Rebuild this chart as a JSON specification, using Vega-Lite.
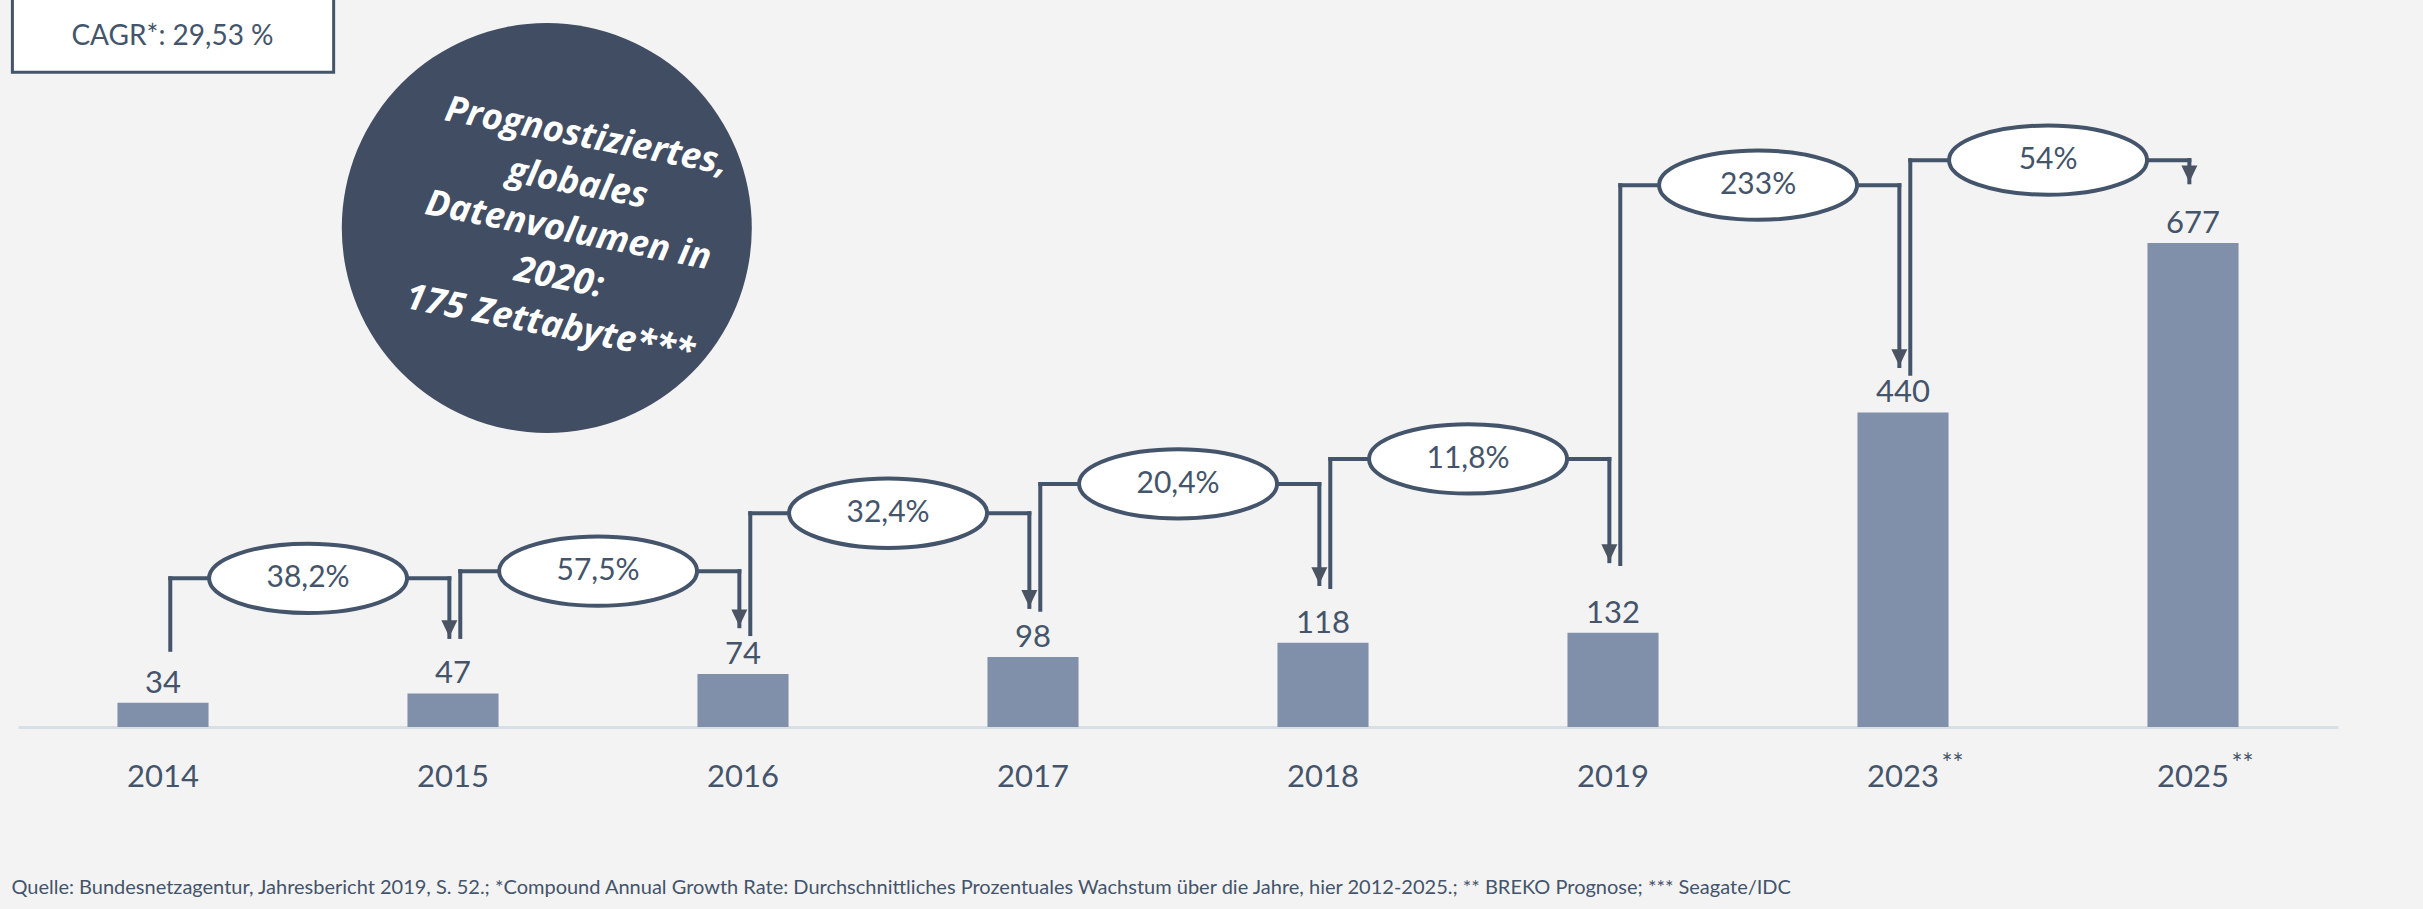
{
  "$schema": "https://vega.github.io/schema/vega-lite/v6.json",
  "autosize": "none",
  "width": 2320,
  "height": 727,
  "padding": {"left": 18, "top": 0, "right": 85, "bottom": 182},
  "background": "#f3f3f3",
  "config": {"view": {"stroke": null}, "font": "Lato"},
  "datasets": {
    "bars": [
      {"year": "2014", "value": 34},
      {"year": "2015", "value": 47},
      {"year": "2016", "value": 74},
      {"year": "2017", "value": 98},
      {"year": "2018", "value": 118},
      {"year": "2019", "value": 132},
      {"year": "2023", "value": 440},
      {"year": "2025", "value": 677}
    ],
    "growth": [
      {"from": "2014", "to": "2015", "label": "38,2%", "level": 208, "start": 108, "tip": 126},
      {"from": "2015", "to": "2016", "label": "57,5%", "level": 218, "start": 126, "tip": 141},
      {"from": "2016", "to": "2017", "label": "32,4%", "level": 299, "start": 130, "tip": 168},
      {"from": "2017", "to": "2018", "label": "20,4%", "level": 340, "start": 164, "tip": 200},
      {"from": "2018", "to": "2019", "label": "11,8%", "level": 375, "start": 196, "tip": 232},
      {"from": "2019", "to": "2023", "label": "233%", "level": 758, "start": 228, "tip": 505},
      {"from": "2023", "to": "2025", "label": "54%", "level": 793, "start": 494, "tip": 762}
    ],
    "forecast": [
      {"year": "2023", "mark": "**"},
      {"year": "2025", "mark": "**"}
    ]
  },
  "layer": [
    {
      "data": {"name": "bars"},
      "mark": {"type": "bar", "color": "#8090ab"},
      "encoding": {
        "x": {
          "field": "year", "type": "nominal",
          "scale": {"domain": ["2014", "2015", "2016", "2017", "2018", "2019", "2023", "2025"], "paddingInner": 0.686, "paddingOuter": 0.343},
          "axis": {"title": null, "ticks": false, "grid": false, "labelAngle": 0, "labelFontSize": 31, "labelFont": "Lato", "labelColor": "#44546a", "labelPadding": 59, "labelBaseline": "alphabetic", "domainColor": "#d9dfe7", "domainWidth": 3}
        },
        "y": {"field": "value", "type": "quantitative", "scale": {"domain": [0, 1017], "nice": false}, "axis": null}
      }
    },
    {
      "data": {"name": "bars"},
      "mark": {"type": "text", "dy": -10, "baseline": "alphabetic", "fontSize": 31, "color": "#44546a"},
      "encoding": {
        "x": {"field": "year", "type": "nominal"},
        "y": {"field": "value", "type": "quantitative"},
        "text": {"field": "value"}
      }
    },
    {
      "data": {"name": "forecast"},
      "mark": {"type": "text", "align": "left", "baseline": "alphabetic", "fontSize": 26, "color": "#44546a"},
      "encoding": {
        "x": {"field": "year", "type": "nominal", "bandPosition": 0.923},
        "y": {"datum": -64, "type": "quantitative"},
        "text": {"field": "mark"}
      }
    },
    {
      "data": {"name": "growth"},
      "mark": {"type": "rule", "color": "#44546a", "strokeWidth": 4, "strokeCap": "square"},
      "encoding": {
        "x": {"field": "from", "type": "nominal", "bandPosition": 0.58},
        "y": {"field": "start", "type": "quantitative"},
        "y2": {"field": "level"}
      }
    },
    {
      "data": {"name": "growth"},
      "mark": {"type": "rule", "color": "#44546a", "strokeWidth": 4, "strokeCap": "square"},
      "encoding": {
        "x": {"field": "from", "type": "nominal", "bandPosition": 0.58},
        "x2": {"field": "to", "bandPosition": 0.46},
        "y": {"field": "level", "type": "quantitative"}
      }
    },
    {
      "data": {"name": "growth"},
      "mark": {"type": "rule", "color": "#44546a", "strokeWidth": 4, "strokeCap": "square"},
      "encoding": {
        "x": {"field": "to", "type": "nominal", "bandPosition": 0.46},
        "y": {"field": "level", "type": "quantitative"},
        "y2": {"field": "tip"}
      }
    },
    {
      "data": {"name": "growth"},
      "mark": {"type": "point", "filled": true, "opacity": 1, "color": "#4a5462", "shape": "M 0 0 L -1 -2.1 L 1 -2.1 Z", "size": 256},
      "encoding": {
        "x": {"field": "to", "type": "nominal", "bandPosition": 0.46},
        "y": {"field": "tip", "type": "quantitative"}
      }
    },
    {
      "data": {"name": "growth"},
      "mark": {"type": "point", "filled": true, "opacity": 1, "fill": "#ffffff", "stroke": "#44546a", "strokeWidth": 4, "shape": "M -1 0 A 1 0.35 0 1 1 1 0 A 1 0.35 0 1 1 -1 0 Z", "size": 39204},
      "encoding": {
        "x": {"field": "from", "type": "nominal", "bandPosition": 2.093},
        "y": {"field": "level", "type": "quantitative"}
      }
    },
    {
      "data": {"name": "growth"},
      "mark": {"type": "text", "baseline": "middle", "fontSize": 30, "color": "#44546a"},
      "encoding": {
        "x": {"field": "from", "type": "nominal", "bandPosition": 2.093},
        "y": {"field": "level", "type": "quantitative"},
        "text": {"field": "label"}
      }
    },
    {
      "data": {"values": [{}]},
      "mark": {"type": "rect", "fill": "#ffffff", "stroke": "#44546a", "strokeWidth": 3},
      "encoding": {
        "x": {"datum": "2014", "type": "nominal", "bandPosition": -1.154},
        "x2": {"datum": "2014", "bandPosition": 2.374},
        "y": {"datum": 1025, "type": "quantitative"},
        "y2": {"datum": 916}
      }
    },
    {
      "data": {"values": [{}]},
      "mark": {"type": "text", "text": "CAGR*: 29,53 %", "baseline": "middle", "fontSize": 28, "color": "#44546a"},
      "encoding": {
        "x": {"datum": "2014", "type": "nominal", "bandPosition": 0.604},
        "y": {"datum": 965, "type": "quantitative"}
      }
    },
    {
      "data": {"values": [{}]},
      "mark": {"type": "point", "shape": "circle", "filled": true, "opacity": 1, "color": "#414d62", "size": 168100},
      "encoding": {
        "x": {"datum": "2015", "type": "nominal", "bandPosition": 1.53},
        "y": {"datum": 698, "type": "quantitative"}
      }
    },
    {
      "data": {"values": [{}]},
      "mark": {"type": "text", "text": ["Prognostiziertes,", "globales", "Datenvolumen in", "2020:", "175 Zettabyte***"], "font": "Open Sans", "fontStyle": "italic", "fontWeight": "bold", "fontSize": 36, "lineHeight": 48, "angle": 11, "align": "center", "baseline": "middle", "color": "#ffffff"},
      "encoding": {
        "x": {"datum": "2015", "type": "nominal", "bandPosition": 1.967},
        "y": {"datum": 826, "type": "quantitative"}
      }
    },
    {
      "data": {"values": [{}]},
      "mark": {"type": "text", "text": "Quelle: Bundesnetzagentur, Jahresbericht 2019, S. 52.; *Compound Annual Growth Rate: Durchschnittliches Prozentuales Wachstum über die Jahre, hier 2012-2025.; ** BREKO Prognose; *** Seagate/IDC", "align": "left", "baseline": "middle", "fontSize": 20, "color": "#44546a"},
      "encoding": {
        "x": {"datum": "2014", "type": "nominal", "bandPosition": -1.165},
        "y": {"datum": -225, "type": "quantitative"}
      }
    }
  ]
}
